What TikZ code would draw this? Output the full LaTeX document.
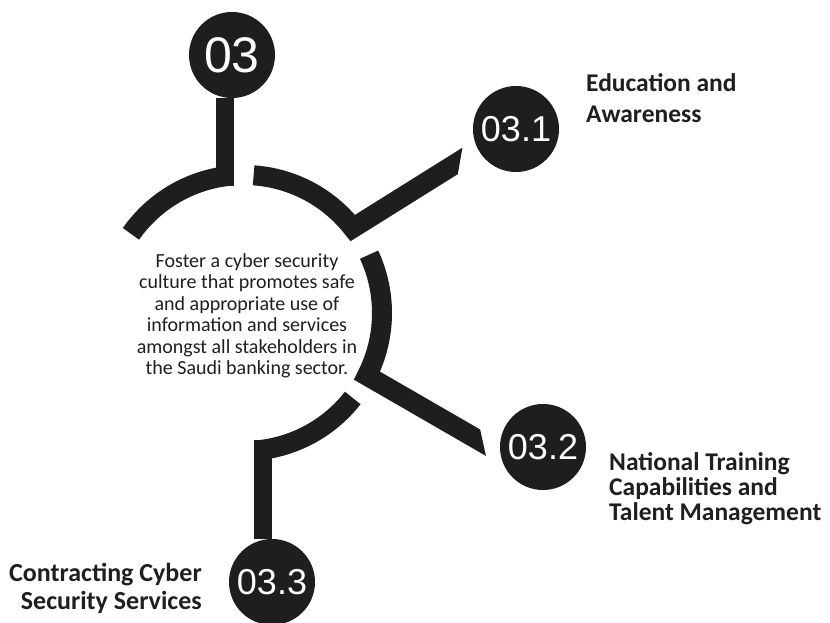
\documentclass[tikz,border=0pt]{standalone}
\usepackage{fontspec}
\setmainfont{Carlito}
\newfontfamily\numfont{Liberation Sans}
\usetikzlibrary{calc}
\definecolor{ink}{HTML}{1E1E1E}
\definecolor{txt}{HTML}{1F1F1F}
\begin{document}
\begin{tikzpicture}[x=1pt,y=-1pt,
  numcirc/.style={circle, fill=ink, minimum size=86pt, inner sep=0pt, text=white,
    font=\numfont\fontsize{36}{36}\selectfont},
  arcline/.style={draw=ink, line width=20pt, line join=miter, line cap=butt},
  stemline/.style={draw=ink, line width=18pt, line cap=butt},
  headlabel/.style={text=txt, inner sep=0pt},
]
\useasboundingbox[fill=white] (0,0) rectangle (830,622);

% hub of the diagram
\coordinate (C) at (244,313);

% numbered circles
\node[numcirc, font=\numfont\fontsize{50}{50}\selectfont] (n03) at (232,55) {03};
\node[numcirc] (n31) at (516,129) {03.1};
\node[numcirc] (n32) at (543,447) {03.2};
\node[numcirc] (n33) at (272,582) {03.3};

% junction points on the ring (stems end on its inner edge)
\coordinate (j0) at ($(C)+(-98.5:128)$);
\coordinate (j3) at ($(C)+(81.5:128)$);
\coordinate (e1) at (480,148.5);
\coordinate (e2) at (500,452.5);

% upper left ring segment and stem to 03
\draw[arcline] ($(C)+(-145:138)$) arc[start angle=-145, end angle=-96.7, radius=138];
\draw[stemline] (n03.south -| j0) -- (j0);

% upper right ring segment bending towards 03.1
\begin{scope}
  \clip (0,100) -- (470.7,100) -- (442.9,260) -- (0,260) -- cycle;
  \draw[arcline] ($(C)+(-86:138)$) arc[start angle=-86, end angle=-38, radius=138] -- (e1);
\end{scope}

% right ring segment bending towards 03.2
\begin{scope}
  \clip (0,200) -- (430,200) -- (489,470) -- (0,470) -- cycle;
  \draw[arcline] ($(C)+(-25:138)$) arc[start angle=-25, end angle=27, radius=138] -- (e2);
\end{scope}

% lower ring segment and stem to 03.3
\draw[arcline] ($(C)+(38:138)$) arc[start angle=38, end angle=85.4, radius=138];
\draw[stemline] (j3) -- (j3 |- n33.north);

% goal statement inside the ring
\node[font=\fontsize{20}{21.5}\selectfont, align=center, text=txt, inner sep=0pt] (goal) at (247,316)
  {Foster a cyber security\\culture that promotes safe\\and appropriate use of\\information and services\\amongst all stakeholders in\\the Saudi banking sector.};

% initiative titles
\node[headlabel, align=left, anchor=north west, font=\bfseries\fontsize{25.5}{31}\selectfont] (t31) at (586,73)
  {Education and\\Awareness};
\node[headlabel, align=left, anchor=north west, font=\bfseries\fontsize{25.5}{25}\selectfont] (t32) at (609,452)
  {National Training\\Capabilities and\\Talent Management};
\node[headlabel, align=right, anchor=north east, font=\bfseries\fontsize{26}{28}\selectfont] (t33) at (202,563)
  {Contracting Cyber\\Security Services};
\end{tikzpicture}
\end{document}
